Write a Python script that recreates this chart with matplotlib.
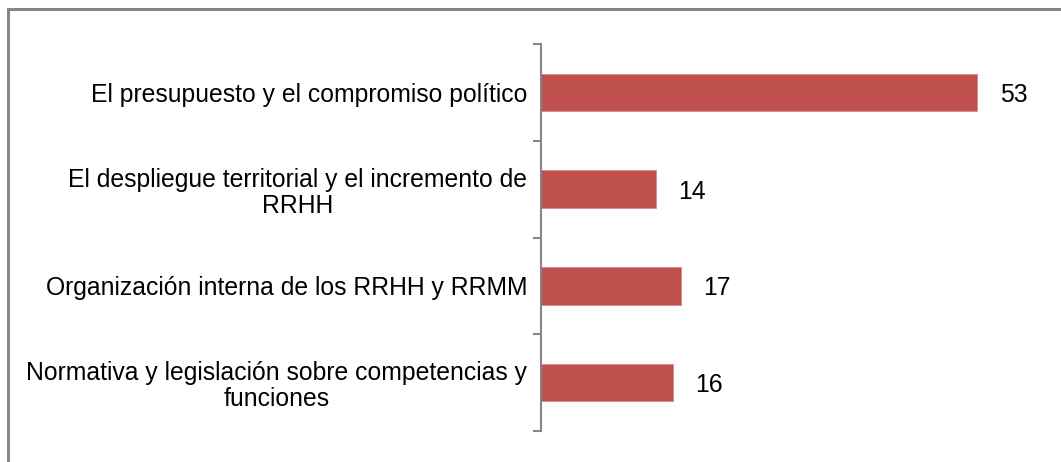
import matplotlib
matplotlib.use("Agg")
import matplotlib.pyplot as plt
from matplotlib.patches import Rectangle

categories = [
    "El presupuesto y el compromiso político",
    "El despliegue territorial y el incremento de\nRRHH",
    "Organización interna de los RRHH y RRMM",
    "Normativa y legislación sobre competencias y\nfunciones",
]
values = [53, 14, 17, 16]

plt.rcParams['font.family'] = ['Liberation Sans', 'DejaVu Sans']

fig = plt.figure(figsize=(10.61, 4.62), dpi=100)
W, H = 1061, 462

# outer chart border (only top/left visible in the crop)
fig.patches.append(Rectangle((8 / W, -0.1), 1.2, 1 - 9 / H + 0.1, transform=fig.transFigure,
                             fill=False, edgecolor='#868686', linewidth=2.2))

ax = fig.add_axes([541 / W, 1 - 431 / H, 494 / W, (431 - 44) / H])

pos = list(range(len(categories)))
ax.barh(pos, values, height=0.39, color='#C0504D', edgecolor='#D98A88', linewidth=0.6)

for p, v in zip(pos, values):
    ax.text(v + 2.7, p, str(v), va='center_baseline', ha='left', fontsize=17.8, color='black')

ax.set_xlim(0, 60)
ax.set_ylim(3.5, -0.5)

for s in ['top', 'right', 'bottom']:
    ax.spines[s].set_visible(False)
ax.spines['left'].set_color('#868686')
ax.spines['left'].set_linewidth(1.5)
ax.set_xticks([])

# tick marks between categories, labels at centers
ax.set_yticks([-0.5, 0.5, 1.5, 2.5, 3.5])
ax.set_yticklabels([])
ax.tick_params(axis='y', which='major', length=6, width=1.5, color='#868686', direction='out')
ax.set_yticks(pos, minor=True)
ax.set_yticklabels(categories, minor=True, fontsize=17.8, multialignment='center', linespacing=1.1)
ax.tick_params(axis='y', which='minor', length=0, pad=10)

fig.savefig("out.png", dpi=100)
